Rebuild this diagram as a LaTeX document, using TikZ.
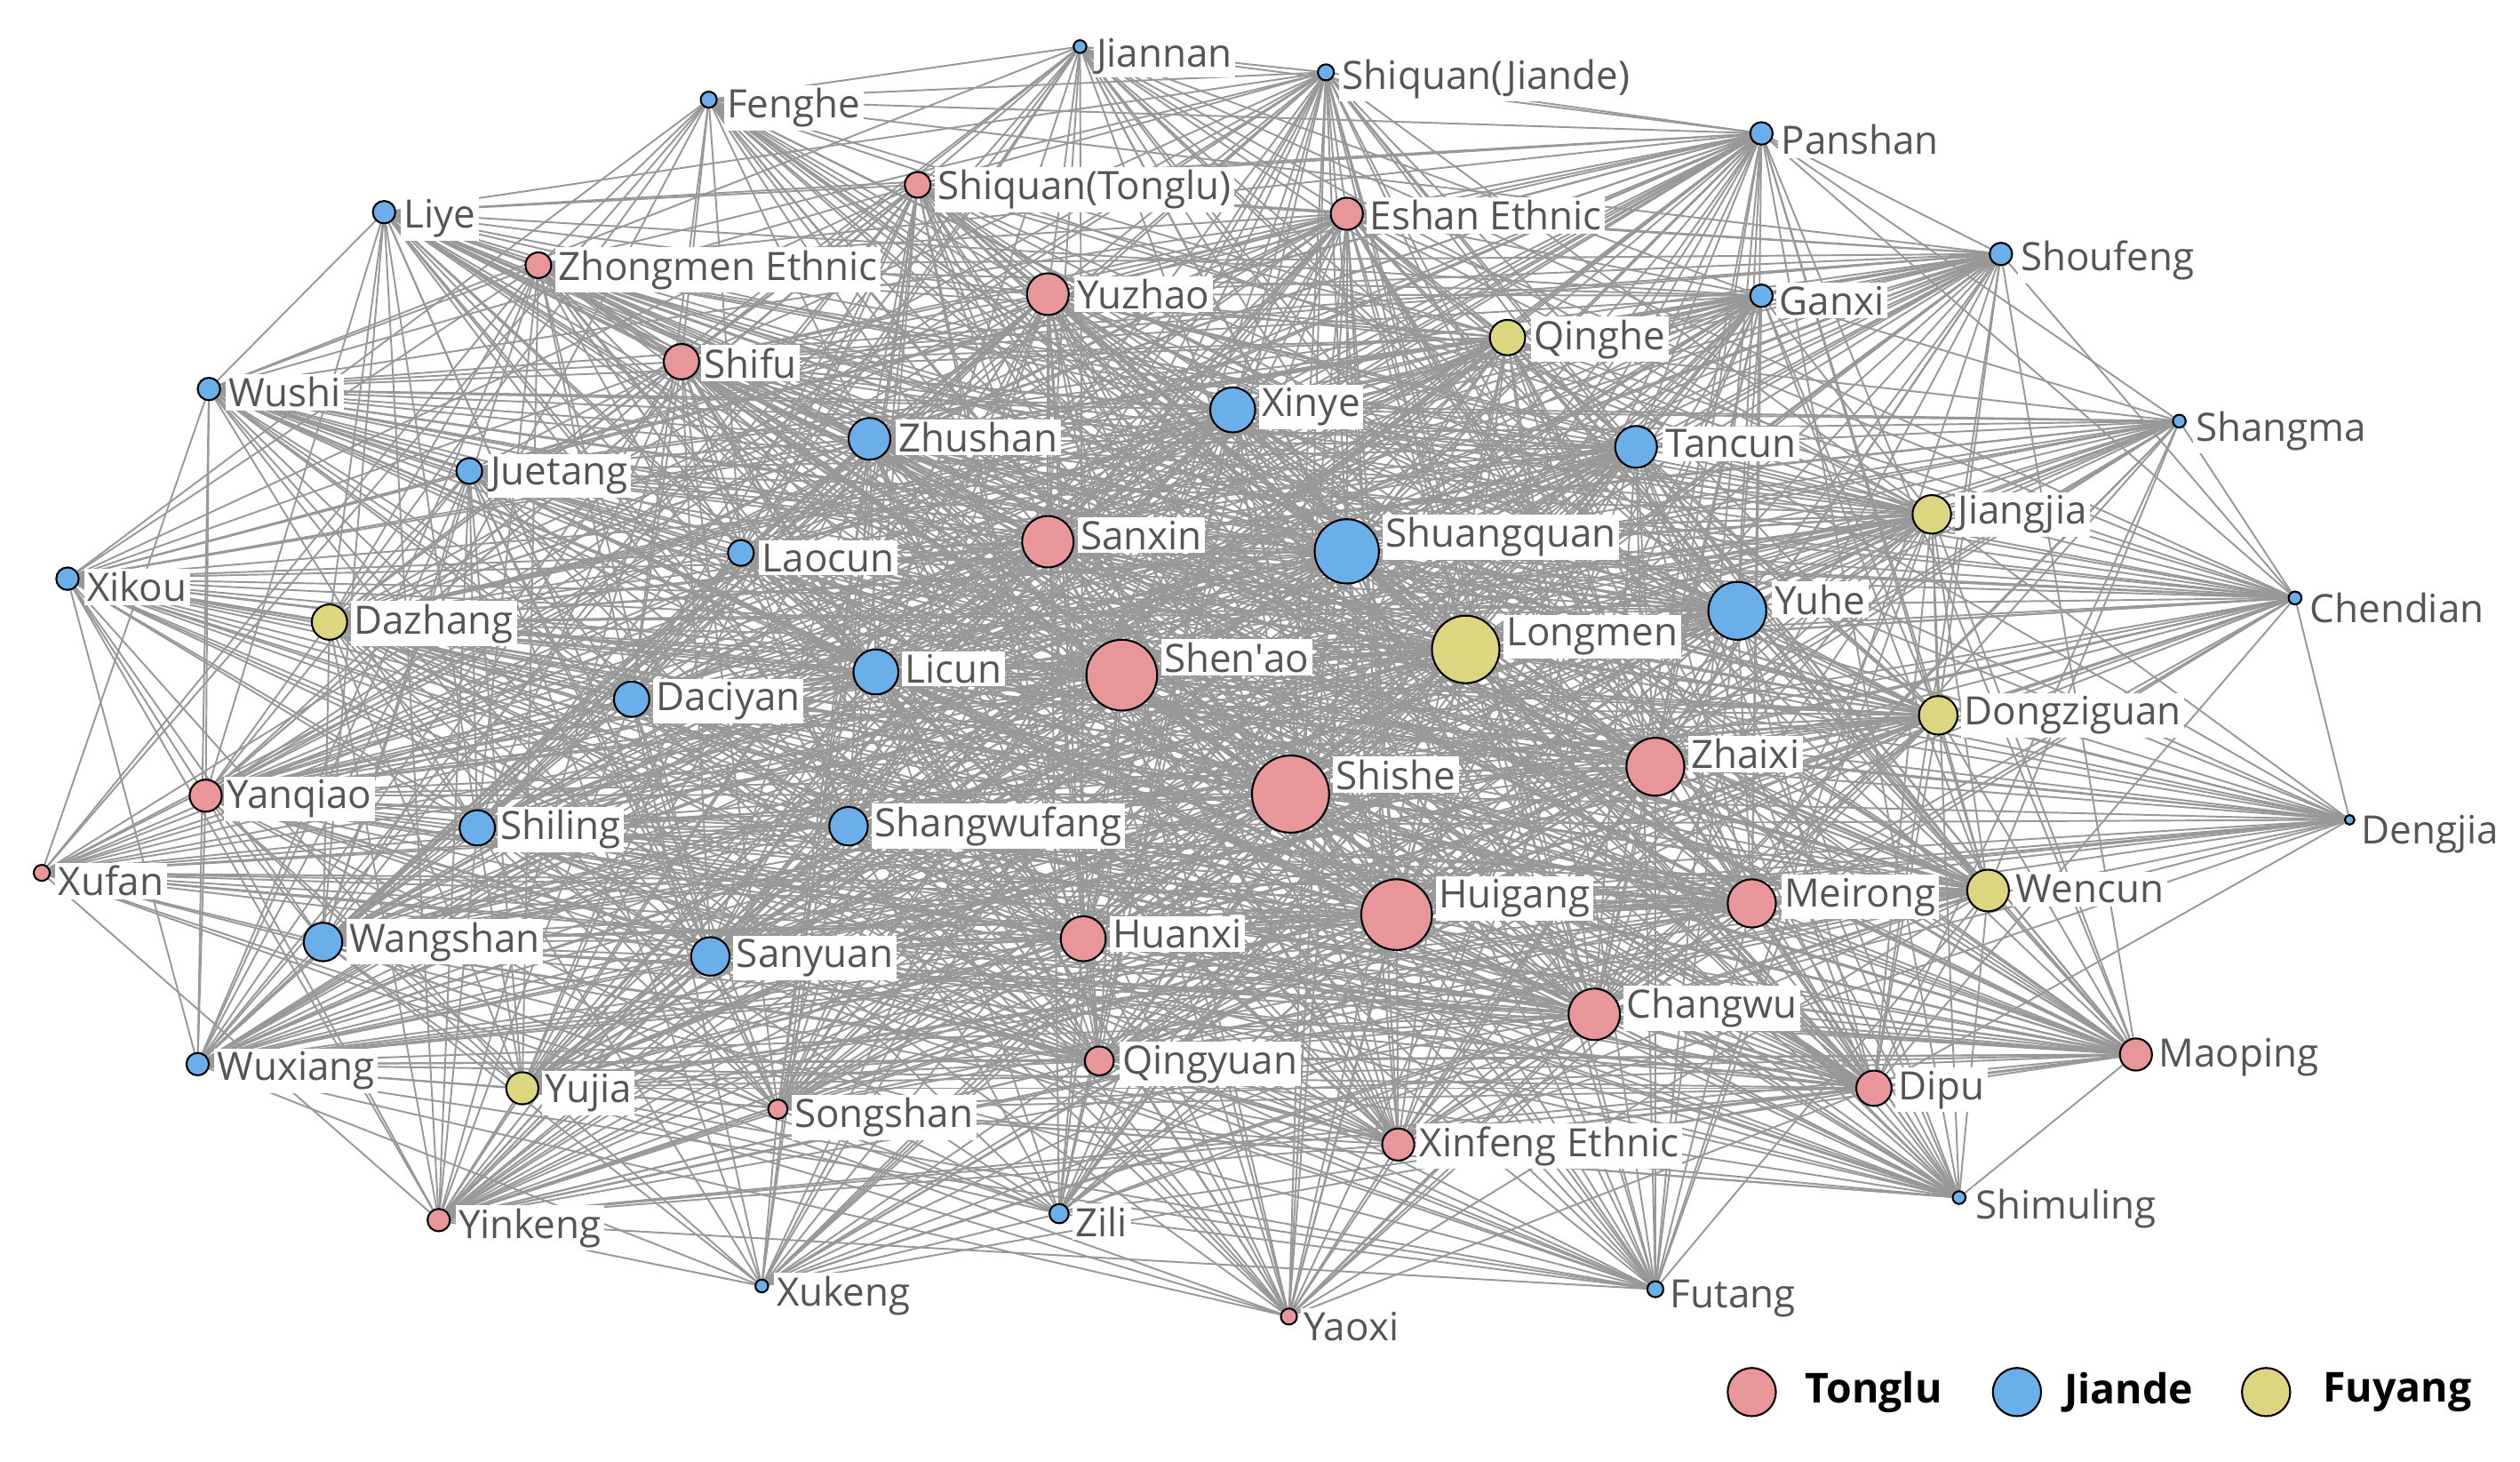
\documentclass[tikz,border=0pt]{standalone}
\usepackage{fontspec}
\setmainfont{Open Sans}
\pgfdeclarelayer{bg}
\pgfsetlayers{bg,main}
\definecolor{cT}{RGB}{232,150,154}
\definecolor{cJ}{RGB}{106,174,234}
\definecolor{cF}{RGB}{221,214,128}
\definecolor{edgegray}{RGB}{152,152,152}
\definecolor{labgray}{RGB}{85,85,85}
\tikzset{
  vtx/.style={circle, draw=black, line width=0.6pt, inner sep=0pt},
  lbl/.style={anchor=west, fill=white, inner sep=1pt, text=labgray, font=\fontsize{12.5}{14}\selectfont},
  edge/.style={draw=edgegray, line width=0.55pt},
  legtxt/.style={anchor=west, inner sep=0pt, text=black, font=\fontsize{13.2}{16}\selectfont\bfseries}
}
\newcommand\vn[8]{%
  \node[vtx, fill=#5, minimum size={2*#4*0.018087cm}] (n#1) at (#2,#3) {};
  \node[lbl] (l#1) at (#7,#8) {#6};
  \pgfmathtruncatemacro\dtmp{min(58,16+2.2*#4)}%
  \expandafter\xdef\csname dg#1\endcsname{\dtmp}%
}
\begin{document}
\begin{tikzpicture}[x=0.018087cm, y=-0.018087cm]
\useasboundingbox (0,0) rectangle (1568,909);
\vn{1}{672}{29}{4}{cJ}{Jiannan}{680}{35}
\vn{2}{825}{45}{5}{cJ}{Shiquan(Jiande)}{833}{49}
\vn{3}{441}{62}{5}{cJ}{Fenghe}{450}{67}
\vn{4}{1096}{83}{7}{cJ}{Panshan}{1106}{87}
\vn{5}{571}{115}{8}{cT}{Shiquan(Tonglu)}{581}{118}
\vn{6}{838}{133}{10}{cT}{Eshan Ethnic}{850}{134}
\vn{7}{239}{132}{7}{cJ}{Liye}{249}{136}
\vn{8}{335}{165}{8}{cT}{Zhongmen Ethnic}{345}{168}
\vn{9}{1245}{158}{7}{cJ}{Shoufeng}{1255}{162}
\vn{10}{652}{183}{13}{cT}{Yuzhao}{668}{183}
\vn{11}{1096}{184}{7}{cJ}{Ganxi}{1105}{187}
\vn{12}{938}{210}{11}{cF}{Qinghe}{952}{211}
\vn{13}{424}{225}{11}{cT}{Shifu}{436}{226}
\vn{14}{130}{242}{7}{cJ}{Wushi}{140}{244}
\vn{15}{767}{255}{14}{cJ}{Xinye}{783}{253}
\vn{16}{541}{273}{13}{cJ}{Zhushan}{557}{272}
\vn{17}{1018}{278}{13}{cJ}{Tancun}{1034}{276}
\vn{18}{1356}{262}{4}{cJ}{Shangma}{1364}{268}
\vn{19}{292}{293}{8}{cJ}{Juetang}{303}{296}
\vn{20}{1202}{320}{12}{cF}{Jiangjia}{1216}{320}
\vn{21}{652}{337}{16}{cT}{Sanxin}{670}{333}
\vn{22}{838}{343}{20}{cJ}{Shuangquan}{860}{334}
\vn{23}{461}{344}{8}{cJ}{Laocun}{472}{347}
\vn{24}{42}{360}{7}{cJ}{Xikou}{52}{365}
\vn{25}{1428}{372}{4}{cJ}{Chendian}{1435}{378}
\vn{26}{1081}{380}{18}{cJ}{Yuhe}{1102}{373}
\vn{27}{205}{387}{11}{cF}{Dazhang}{218}{388}
\vn{28}{912}{404}{21}{cF}{Longmen}{935}{396}
\vn{29}{698}{420}{22}{cT}{Shen\textquotesingle ao}{722}{409}
\vn{30}{545}{418}{14}{cJ}{Licun}{561}{416}
\vn{31}{393}{435}{11}{cJ}{Daciyan}{406}{436}
\vn{32}{1206}{445}{12}{cF}{Dongziguan}{1220}{445}
\vn{33}{1030}{477}{18}{cT}{Zhaixi}{1050}{469}
\vn{34}{803}{494}{24}{cT}{Shishe}{829}{482}
\vn{35}{128}{495}{10}{cT}{Yanqiao}{139}{497}
\vn{36}{1462}{510}{3}{cJ}{Dengjia}{1467}{519}
\vn{37}{297}{515}{11}{cJ}{Shiling}{309}{516}
\vn{38}{528}{514}{12}{cJ}{Shangwufang}{542}{514}
\vn{39}{26}{543}{5}{cT}{Xufan}{34}{548}
\vn{40}{1237}{554}{13}{cF}{Wencun}{1252}{553}
\vn{41}{869}{569}{22}{cT}{Huigang}{893}{559}
\vn{42}{1090}{562}{15}{cT}{Meirong}{1108}{558}
\vn{43}{201}{586}{12}{cJ}{Wangshan}{215}{586}
\vn{44}{674}{584}{14}{cT}{Huanxi}{690}{581}
\vn{45}{442}{595}{12}{cJ}{Sanyuan}{456}{596}
\vn{46}{992}{631}{16}{cT}{Changwu}{1010}{627}
\vn{47}{1329}{656}{10}{cT}{Maoping}{1341}{658}
\vn{48}{123}{662}{7}{cJ}{Wuxiang}{133}{666}
\vn{49}{684}{660}{9}{cT}{Qingyuan}{696}{662}
\vn{50}{325}{677}{10}{cF}{Yujia}{337}{680}
\vn{51}{1166}{677}{11}{cT}{Dipu}{1179}{678}
\vn{52}{484}{690}{6}{cT}{Songshan}{492}{695}
\vn{53}{870}{712}{10}{cT}{Xinfeng Ethnic}{881}{713}
\vn{54}{1219}{745}{4}{cJ}{Shimuling}{1227}{752}
\vn{55}{659}{755}{6}{cJ}{Zili}{667}{760}
\vn{56}{273}{759}{7}{cT}{Yinkeng}{283}{764}
\vn{57}{474}{800}{4}{cJ}{Xukeng}{481}{806}
\vn{58}{1030}{802}{5}{cJ}{Futang}{1037}{808}
\vn{59}{802}{819}{5}{cT}{Yaoxi}{809}{825}
\begin{pgfonlayer}{bg}
\pgfmathsetseed{20240}
\foreach \i in {1,...,58}{
  \pgfmathtruncatemacro\js{\i+1}
  \foreach \j in {\js,...,59}{
    \pgfmathsetmacro\pp{\csname dg\i\endcsname*\csname dg\j\endcsname/1650}
    \pgfmathsetmacro\rr{rnd}
    \ifdim\rr pt<\pp pt \draw[edge] (n\i) -- (n\j); \fi
  }
}
\end{pgfonlayer}
% legend
\node[vtx, fill=cT, minimum size={30*0.018087cm}] (kT) at (1090,866) {};
\node[legtxt] (tT) at (1123,866) {Tonglu};
\node[vtx, fill=cJ, minimum size={30*0.018087cm}] (kJ) at (1255,866) {};
\node[legtxt] (tJ) at (1284,866) {Jiande};
\node[vtx, fill=cF, minimum size={30*0.018087cm}] (kF) at (1410,866) {};
\node[legtxt] (tF) at (1445,866) {Fuyang};
\end{tikzpicture}
\end{document}
